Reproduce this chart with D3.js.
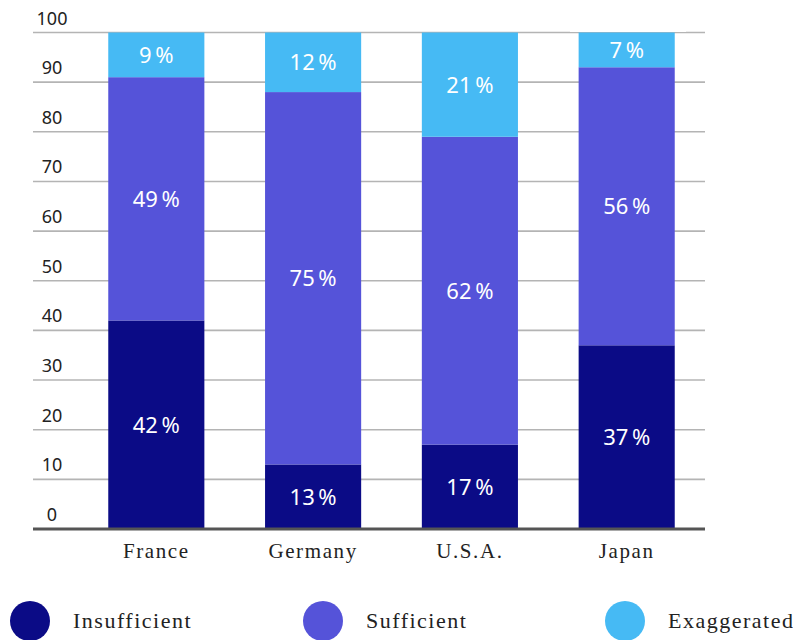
<!DOCTYPE html>
<html><head><meta charset="utf-8">
<script src="https://cdn.jsdelivr.net/npm/d3@7"></script>
<style>html,body{margin:0;padding:0;background:#fff;}svg{display:block;}</style>
</head><body>
<svg id="c" width="793" height="640"></svg>
<script>
const categories = ["France", "Germany", "U.S.A.", "Japan"];
const seriesNames = ["Insufficient", "Sufficient", "Exaggerated"];
const insufficient = [42, 13, 17, 37];
const sufficient = [49, 75, 62, 56];
const exaggerated = [9, 12, 21, 7];
const yTicks = [0, 10, 20, 30, 40, 50, 60, 70, 80, 90, 100];
const colors = ["#0b0b86", "#5553d9", "#46baf4"];

const svg = d3.select("#c");
const x = d3.scaleBand().domain(categories).range([78, 705]).paddingInner(0.387).paddingOuter(0.193);
const y = d3.scaleLinear().domain([0, 100]).range([529, 32.5]);

// gridlines
svg.append("g").selectAll("line").data(yTicks.filter(d => d > 0)).join("line")
  .attr("x1", 33).attr("x2", 705)
  .attr("y1", d => y(d)).attr("y2", d => y(d))
  .attr("stroke", "#b4b4b4").attr("stroke-width", 1.6);

// tick labels
svg.append("g").selectAll("text").data(yTicks).join("text")
  .attr("x", 52).attr("y", d => y(d) - 8)
  .attr("text-anchor", "middle")
  .attr("font-family", "'Noto Sans', 'Open Sans', sans-serif")
  .attr("font-size", 18).attr("fill", "#222")
  .text(d => d);

const rows = categories.map((c, i) => ({cat: c, Insufficient: insufficient[i], Sufficient: sufficient[i], Exaggerated: exaggerated[i]}));
const stacked = d3.stack().keys(seriesNames)(rows);

const gBars = svg.append("g");
stacked.forEach((layer, li) => {
  gBars.append("g").selectAll("rect").data(layer).join("rect")
    .attr("x", d => x(d.data.cat))
    .attr("width", x.bandwidth())
    .attr("y", d => y(d[1]))
    .attr("height", d => y(d[0]) - y(d[1]))
    .attr("fill", colors[li]);
  gBars.append("g").selectAll("text").data(layer).join("text")
    .attr("x", d => x(d.data.cat) + x.bandwidth() / 2)
    .attr("y", d => (y(d[0]) + y(d[1])) / 2)
    .attr("dy", "0.36em")
    .attr("text-anchor", "middle")
    .attr("font-family", "'Noto Sans', 'Open Sans', sans-serif")
    .attr("font-size", 22).attr("fill", "#fff")
    .text(d => (d[1] - d[0]) + "\u2009%");
});

// white box artifact at top right
svg.append("rect").attr("x", 570).attr("y", 0).attr("width", 116).attr("height", 32).attr("fill", "#fff");

// baseline
svg.append("line").attr("x1", 33).attr("x2", 705).attr("y1", y(0)).attr("y2", y(0))
  .attr("stroke", "#555").attr("stroke-width", 3);

// category labels
svg.append("g").selectAll("text").data(categories).join("text")
  .attr("x", d => x(d) + x.bandwidth() / 2).attr("y", 558)
  .attr("text-anchor", "middle")
  .attr("font-family", "'Liberation Serif', 'DejaVu Serif', serif")
  .attr("font-size", 21).attr("letter-spacing", 1.6).attr("fill", "#222")
  .text(d => d);

// legend
const legendX = [30, 323, 625];
const lg = svg.append("g").selectAll("g").data(seriesNames).join("g")
  .attr("transform", (d, i) => `translate(${legendX[i]},621)`);
lg.append("circle").attr("r", 20).attr("fill", (d, i) => colors[i]);
lg.append("text").attr("x", 43).attr("y", 7)
  .attr("font-family", "'Liberation Serif', 'DejaVu Serif', serif")
  .attr("font-size", 22).attr("letter-spacing", 1.5).attr("fill", "#222")
  .text(d => d);
</script>
</body></html>
